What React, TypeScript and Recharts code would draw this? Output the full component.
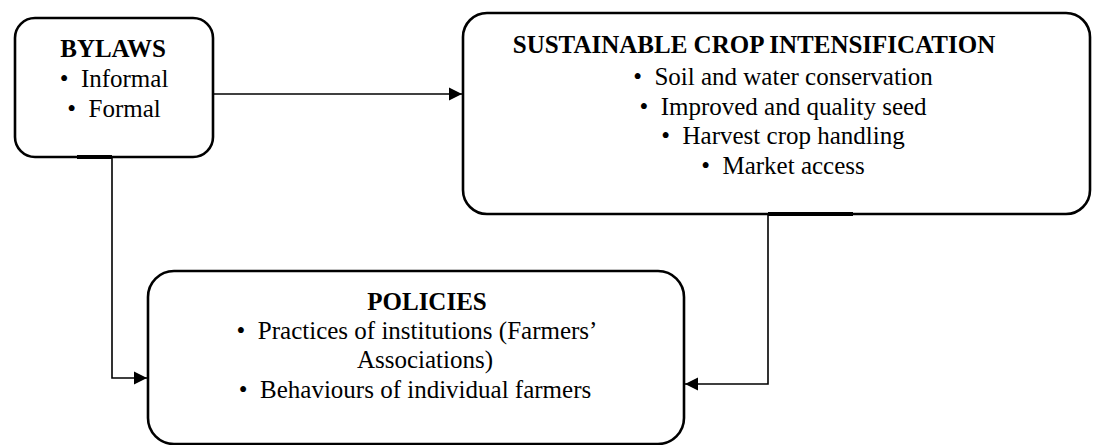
import React from 'react';
import {
  ComposedChart,
  XAxis,
  YAxis,
  Line,
  Scatter,
  ReferenceArea,
} from 'recharts';

// diagram content
const BYLAWS_TITLE = 'BYLAWS';
const BYLAWS_ITEMS = ['Informal', 'Formal'];

const SCI_TITLE = 'SUSTAINABLE CROP INTENSIFICATION';
const SCI_ITEMS = [
  'Soil and water conservation',
  'Improved and quality seed',
  'Harvest crop handling',
  'Market access',
];

const POLICIES_TITLE = 'POLICIES';
const POLICIES_LINES = [
  '\u2022\u00a0 Practices of institutions (Farmers\u2019',
  'Associations)',
  '\u2022\u00a0 Behaviours of individual farmers',
];

// page coordinates (px) used as axis units
const W = 1093;
const H = 445;

const BOXES = [
  { id: 'bylaws', x1: 15, x2: 213, y1: 18, y2: 157, r: 20 },
  { id: 'sci', x1: 463, x2: 1090, y1: 13, y2: 214, r: 24 },
  { id: 'policies', x1: 148, x2: 684, y1: 271, y2: 444, r: 26 },
];

const CONNECTORS = [
  { id: 'c1', points: [{ x: 213, y: 94 }, { x: 462, y: 94 }] },
  { id: 'c2', points: [{ x: 112, y: 157 }, { x: 112, y: 378 }, { x: 147, y: 378 }] },
  { id: 'c3', points: [{ x: 768, y: 214 }, { x: 768, y: 384 }, { x: 685, y: 384 }] },
];

// thicker bits of the box borders where the connectors leave
const TABS = [
  { id: 't1', points: [{ x: 77, y: 157 }, { x: 112, y: 157 }] },
  { id: 't2', points: [{ x: 768, y: 214 }, { x: 853, y: 214 }] },
];

const bullet = (s: string) => `\u2022\u00a0 ${s}`;

const LABELS = [
  { x: 113, y: 57, text: BYLAWS_TITLE, bold: true },
  ...BYLAWS_ITEMS.map((t, i) => ({ x: 114, y: 87 + i * 30, text: bullet(t), bold: false })),
  { x: 754, y: 53, text: SCI_TITLE, bold: true },
  ...SCI_ITEMS.map((t, i) => ({ x: 783, y: 85 + i * 29.5, text: bullet(t), bold: false })),
  { x: 427, y: 310, text: POLICIES_TITLE, bold: true },
  { x: 417, y: 339, text: POLICIES_LINES[0], bold: false },
  { x: 425, y: 368, text: POLICIES_LINES[1], bold: false },
  { x: 415, y: 398, text: POLICIES_LINES[2], bold: false },
];

const FONT = "'Liberation Serif', 'Times New Roman', Times, serif";

const RoundBox = (r: number) => (props: any) => {
  const { x, y, width, height } = props;
  return (
    <rect x={x} y={y} width={width} height={height} rx={r} ry={r}
      fill="none" stroke="#000" strokeWidth={2.6} />
  );
};

const arrowDot = (pts: { x: number; y: number }[]) => (props: any) => {
  const { cx, cy, index } = props;
  if (index !== pts.length - 1) return <g key={`d-${index}`} />;
  const dir = pts[index].x >= pts[index - 1].x ? 1 : -1;
  const len = 13;
  const half = 6.5;
  const d = `M${cx},${cy} L${cx - dir * len},${cy - half} L${cx - dir * len},${cy + half} Z`;
  return <path key={`d-${index}`} d={d} fill="#000" stroke="none" />;
};

const TextShape = (props: any) => {
  const { cx, cy, payload } = props;
  return (
    <text x={cx} y={cy} textAnchor="middle" fill="#000"
      style={{ fontFamily: FONT, fontSize: 25, fontWeight: payload.bold ? 700 : 400 }}>
      {payload.text}
    </text>
  );
};

export default function App() {
  return (
    <div style={{ position: 'absolute', left: 0, top: 0, background: '#fff', fontFamily: FONT }}>
      <ComposedChart width={W} height={H} margin={{ top: 0, right: 0, bottom: 0, left: 0 }}>
        <XAxis type="number" dataKey="x" domain={[0, W]} allowDataOverflow hide />
        <YAxis type="number" dataKey="y" domain={[0, H]} allowDataOverflow reversed hide />
        {BOXES.map((b) => (
          <ReferenceArea key={b.id} x1={b.x1} x2={b.x2} y1={b.y1} y2={b.y2}
            ifOverflow="visible" shape={RoundBox(b.r)} />
        ))}
        {TABS.map((t) => (
          <Line key={t.id} data={t.points} dataKey="y" type="linear" stroke="#000"
            strokeWidth={4} dot={false} activeDot={false} isAnimationActive={false} />
        ))}
        {CONNECTORS.map((c) => (
          <Line key={c.id} data={c.points} dataKey="y" type="linear" stroke="#000"
            strokeWidth={1.6} dot={arrowDot(c.points)} activeDot={false}
            isAnimationActive={false} />
        ))}
        <Scatter data={LABELS} dataKey="y" shape={TextShape} isAnimationActive={false} />
      </ComposedChart>
    </div>
  );
}
